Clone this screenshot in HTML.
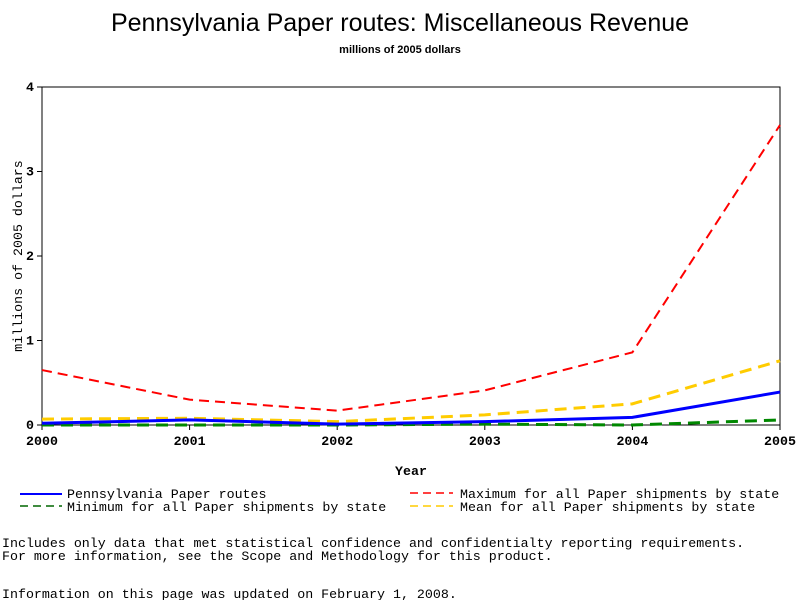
<!DOCTYPE html>
<html><head><meta charset="utf-8"><style>
body{margin:0;background:#fff;width:800px;height:600px;overflow:hidden}
svg{display:block}
.m{font-family:"Liberation Mono",monospace;font-size:13.3px}
</style></head><body>
<svg id="c" width="800" height="600">
<text x="400" y="31" text-anchor="middle" font-family="Liberation Sans,sans-serif" font-size="25">Pennsylvania Paper routes: Miscellaneous Revenue</text>
<text x="400" y="53" text-anchor="middle" font-family="Liberation Sans,sans-serif" font-size="11" font-weight="bold">millions of 2005 dollars</text>
<rect x="42" y="87" width="738" height="338" fill="none" stroke="#000"/>
<g id="axes"></g>
<g id="series"></g>
<text x="411" y="475" text-anchor="middle" class="m" font-weight="bold" font-size="12">Year</text>
<text transform="translate(22,256) rotate(-90)" text-anchor="middle" class="m" font-size="12">millions of 2005 dollars</text>
<g>
<line x1="20" y1="494" x2="62" y2="494" stroke="#00f" stroke-width="2"/>
<text x="67" y="498" class="m">Pennsylvania Paper routes</text>
<line x1="20" y1="506" x2="62" y2="506" stroke="#060" stroke-width="1.5" stroke-dasharray="8,5"/>
<text x="67" y="511" class="m">Minimum for all Paper shipments by state</text>
<line x1="410" y1="493" x2="453" y2="493" stroke="#f00" stroke-width="1.5" stroke-dasharray="8,5"/>
<text x="460" y="498" class="m">Maximum for all Paper shipments by state</text>
<line x1="410" y1="506" x2="453" y2="506" stroke="#fc0" stroke-width="1.5" stroke-dasharray="8,5"/>
<text x="460" y="511" class="m">Mean for all Paper shipments by state</text>
</g>
<text x="2" y="547" class="m">Includes only data that met statistical confidence and confidentialty reporting requirements.</text>
<text x="2" y="560" class="m">For more information, see the Scope and Methodology for this product.</text>
<text x="2" y="598" class="m">Information on this page was updated on February 1, 2008.</text>
</svg>
<script>
const years=[2000,2001,2002,2003,2004,2005];
const yTicks=[0,1,2,3,4];
const paVals=[0.02,0.06,0.01,0.04,0.09,0.39];
const maxVals=[0.65,0.30,0.17,0.41,0.86,3.55];
const meanVals=[0.07,0.08,0.04,0.12,0.25,0.76];
const minVals=[0.0,0.0,0.0,0.01,0.0,0.06];
const NS="http://www.w3.org/2000/svg";
const X0=42,X1=780,Y0=425,Y1=87;
const xs=y=>X0+(y-years[0])/(years[years.length-1]-years[0])*(X1-X0);
const ys=v=>Y0-v/4*(Y0-Y1);
const ax=document.getElementById('axes'),sg=document.getElementById('series');
function mk(t,a,p){const e=document.createElementNS(NS,t);for(const k in a)e.setAttribute(k,a[k]);p.appendChild(e);return e;}
years.forEach(y=>{
 const l=mk('line',{x1:xs(y),x2:xs(y),y1:Y0,y2:Y0+5,stroke:'#000'},ax);
 
 
 const t=mk('text',{x:xs(y),y:Y0+20,'text-anchor':'middle','class':'m','font-weight':'bold','font-size':'12'},ax);
 t.textContent=y;
 
 
});
yTicks.forEach(v=>{
 const l=mk('line',{x1:X0-5,x2:X0,y1:ys(v),y2:ys(v),stroke:'#000'},ax);
 
 
 const t=mk('text',{x:X0-8,y:ys(v)+4,'text-anchor':'end','class':'m','font-weight':'bold','font-size':'12'},ax);
 t.textContent=v;
 
 
});
function line(vals,color,w,dash,name){
 const p=mk('polyline',{points:vals.map((v,i)=>xs(years[i])+','+ys(v)).join(' '),fill:'none',stroke:color,'stroke-width':w},sg);
 if(dash)p.setAttribute('stroke-dasharray',dash);
 
 
}
line(minVals,'#080',3,'12,7','series-minimum');
line(meanVals,'#fc0',3,'12,7','series-mean');
line(maxVals,'#f00',2,'10,6','series-maximum');
line(paVals,'#00f',3,null,'series-pennsylvania');
</script>
</body></html>
